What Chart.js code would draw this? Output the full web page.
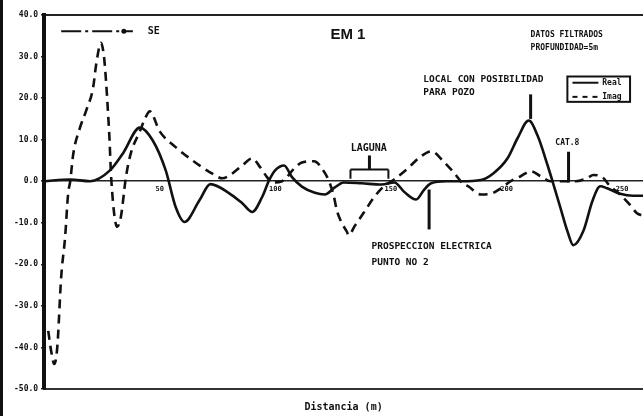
<!DOCTYPE html>
<html>
<head>
<meta charset="utf-8">
<script src="https://cdn.jsdelivr.net/npm/chart.js@4.4.1/dist/chart.umd.min.js"></script>
<style>
  html, body { margin: 0; padding: 0; background: #fff; }
  #wrap { position: relative; width: 643px; height: 416px; }
</style>
</head>
<body>
<div id="wrap"><canvas id="c"></canvas></div>
<script>
// EM 1 profile: real and imaginary components along the line (filtered data, depth 5 m)
const realDist = [0, 11.3, 19.9, 28.5, 34.1, 41.4, 47.0, 52.6, 56.9, 60.7, 67.2, 71.9, 80.1, 85.7, 90.0, 94.3, 97.3, 99.9, 103.8, 107.2, 111.5, 117.1, 121.4, 125.7, 129.6, 137.3, 145.9, 151.5, 155.8, 160.9, 164.4, 167.4, 173.9, 180.3, 188.9, 194.5, 200.5, 204.8, 209.6, 213.4, 217.7, 220.3, 223.3, 226.3, 228.9, 233.2, 237.1, 240.5, 243.5, 249.1, 254.7, 259];
const realVals = [0, 0.4, 0, 2.6, 6.7, 12.9, 9.8, 2.6, -6.2, -9.8, -4.6, -0.7, -2.9, -5.3, -7.4, -3.8, 0.2, 2.6, 3.8, 1.0, -1.3, -2.8, -3.2, -1.5, -0.3, -0.5, -0.8, -0.3, -2.6, -4.4, -2.0, -0.5, 0, 0, 0.3, 2.0, 5.6, 10.4, 14.6, 11.0, 3.9, -0.8, -6.4, -12.0, -15.4, -12.0, -4.8, -1.2, -1.7, -3.0, -3.5, -3.5];

const imagDist = [1.8, 3.1, 4.4, 5.7, 7.4, 9.1, 10.4, 11.3, 12.6, 15.6, 18.2, 21.2, 22.5, 24.6, 25.9, 26.8, 27.6, 28.3, 28.9, 29.8, 30.6, 31.5, 33.2, 35.4, 37.5, 41.4, 44.0, 45.7, 50.0, 56.9, 64.2, 72.8, 77.1, 80.5, 85.7, 90.0, 93.4, 96.4, 98.6, 102.9, 108.1, 111.5, 116.7, 121.4, 123.5, 125.3, 126.6, 128.7, 130.9, 131.7, 134.3, 138.2, 142.5, 146.8, 151.1, 157.5, 162.3, 167.4, 173.0, 177.3, 181.6, 183.3, 188.9, 193.2, 197.5, 201.8, 206.1, 210.4, 214.7, 219.0, 224.6, 229.8, 235.0, 237.5, 241.4, 244.8, 249.1, 253.4, 256.4, 259];
const imagVals = [-36, -41, -44, -40, -23, -13.4, -3, 0, 6.5, 13, 17, 22.5, 28, 33.3, 30, 24, 17, 10, 2, -5, -9, -11, -8.6, 1, 6.7, 12, 15.5, 16.8, 12, 8.2, 5, 1.8, 0.7, 1.5, 3.8, 5.5, 3.4, 1, -0.3, 0, 3, 4.5, 4.8, 2, -0.4, -3.6, -7, -10, -12.1, -13, -10.8, -7.6, -4, -1.3, 0.3, 3.2, 5.7, 7.2, 4.6, 2, -0.8, -1.2, -3.2, -3, -1.7, 0, 1.2, 2.4, 1.2, 0, 0, 0, 0.8, 1.5, 1, -1.2, -3.2, -5.7, -7.7, -8.3];

const distTicks = [50, 100, 150, 200, 250];
const valueRange = [-50, 40];
const distRange = [0, 259];

const INK = '#111';
const MONO = '"DejaVu Sans Mono", "Liberation Mono", monospace';

const toPoints = (xs, ys) => xs.map((x, i) => ({ x, y: ys[i] }));

// Field notes placed in data units (metres, component value)
const notes = {
  title:   { text: 'EM 1', d: 131.4, v: 35.2 },
  se:      { from: 7.4, to: 38.4, mark: 34.5, v: 36.1, label: 'SE', labelAt: 44.8 },
  filtro:  { lines: ['DATOS FILTRADOS', 'PROFUNDIDAD=5m'], d: 210.4, v: [35.2, 32.1] },
  legend:  { d0: 226.3, d1: 253.4, v0: 25.2, v1: 19.1, lineFrom: 228.5, lineTo: 239.7, textAt: 241.4, rows: [23.7, 20.3] },
  pozo:    { lines: ['LOCAL CON POSIBILIDAD', 'PARA POZO'], d: 164.0, v: [24.4, 21.3], arrowD: 210.4, arrowTop: 20.9, arrowEnd: 15.0 },
  laguna:  { text: 'LAGUNA', d: 140.4, v: 7.8, stemTop: 6.2, bar: 2.8, from: 132.5, to: 148.9, foot: 0.6 },
  prosp:   { lines: ['PROSPECCION ELECTRICA', 'PUNTO NO 2'], d: 141.6, v: [-15.7, -19.5], arrowD: 166.5, arrowFrom: -11.6, arrowTo: -2.0 },
  cat:     { text: 'CAT.8', d: 226.3, v: 9.3, arrowD: 226.8, arrowFrom: 7.1, arrowTo: -0.3 }
};

const decor = {
  id: 'decor',
  beforeDraw(chart) {
    const { ctx, chartArea: a, height } = chart;
    ctx.save();
    ctx.fillStyle = INK;
    ctx.fillRect(0, 0, 3, height);          // dark margin strip at the sheet edge
    ctx.strokeStyle = '#222';
    ctx.lineWidth = 2;
    ctx.beginPath();
    ctx.moveTo(a.left, a.top);
    ctx.lineTo(a.right, a.top);
    ctx.stroke();
    ctx.restore();
  },
  afterDatasetsDraw(chart) {
    const { ctx } = chart;
    const X = d => chart.scales.x.getPixelForValue(d);
    const Y = v => chart.scales.y.getPixelForValue(v);
    const text = (s, d, v, size, align = 'left', family = MONO) => {
      ctx.font = 'bold ' + size + 'px ' + family;
      ctx.textAlign = align;
      ctx.textBaseline = 'middle';
      ctx.fillText(s, X(d), Y(v));
    };
    const seg = (d1, v1, d2, v2, w, dash) => {
      ctx.lineWidth = w;
      ctx.setLineDash(dash || []);
      ctx.beginPath();
      ctx.moveTo(X(d1), Y(v1));
      ctx.lineTo(X(d2), Y(v2));
      ctx.stroke();
      ctx.setLineDash([]);
    };
    ctx.save();
    ctx.fillStyle = INK;
    ctx.strokeStyle = INK;

    // title
    text(notes.title.text, notes.title.d, notes.title.v, 15, 'center', '"Liberation Sans", Arial, sans-serif');

    // direction marker
    const se = notes.se;
    seg(se.from, se.v, se.to, se.v, 2, [20, 4, 3, 4]);
    ctx.beginPath();
    ctx.arc(X(se.mark), Y(se.v), 2.5, 0, Math.PI * 2);
    ctx.fill();
    text(se.label, se.labelAt, se.v, 10);

    // processing note
    notes.filtro.lines.forEach((s, i) => text(s, notes.filtro.d, notes.filtro.v[i], 8));

    // legend box built from the dataset styles
    const L = notes.legend;
    ctx.lineWidth = 2;
    ctx.strokeRect(X(L.d0), Y(L.v0), X(L.d1) - X(L.d0), Y(L.v1) - Y(L.v0));
    chart.data.datasets.forEach((ds, i) => {
      seg(L.lineFrom, L.rows[i], L.lineTo, L.rows[i], 2, ds.borderDash ? [5, 5] : []);
      text(ds.label, L.textAt, L.rows[i], 8);
    });

    // candidate well site
    const p = notes.pozo;
    p.lines.forEach((s, i) => text(s, p.d, p.v[i], 9.5));
    seg(p.arrowD, p.arrowTop, p.arrowD, p.arrowEnd, 3);

    // lagoon bracket
    const g = notes.laguna;
    text(g.text, g.d, g.v, 10, 'center');
    seg((g.from + g.to) / 2, g.stemTop, (g.from + g.to) / 2, g.bar, 3);
    seg(g.from, g.bar, g.to, g.bar, 2);
    seg(g.from, g.bar, g.from, g.foot, 2);
    seg(g.to, g.bar, g.to, g.foot, 2);

    // electrical sounding point
    const e = notes.prosp;
    e.lines.forEach((s, i) => text(s, e.d, e.v[i], 9.5));
    seg(e.arrowD, e.arrowFrom, e.arrowD, e.arrowTo, 3);

    // CAT marker
    const c = notes.cat;
    text(c.text, c.d, c.v, 8, 'center');
    seg(c.arrowD, c.arrowFrom, c.arrowD, c.arrowTo, 3);

    ctx.restore();
  }
};

new Chart(document.getElementById('c'), {
  type: 'line',
  data: {
    datasets: [
      {
        label: 'Real',
        data: toPoints(realDist, realVals),
        borderColor: INK,
        borderWidth: 2.6,
        pointRadius: 0,
        cubicInterpolationMode: 'monotone',
        fill: false
      },
      {
        label: 'Imag',
        data: toPoints(imagDist, imagVals),
        borderColor: INK,
        borderWidth: 2.6,
        borderDash: [9, 6],
        pointRadius: 0,
        cubicInterpolationMode: 'monotone',
        fill: false
      }
    ]
  },
  options: {
    responsive: true,
    maintainAspectRatio: false,
    animation: false,
    layout: { padding: { left: 11, top: 15, right: 0, bottom: 3 } },
    plugins: { legend: { display: false }, tooltip: { enabled: false } },
    scales: {
      x: {
        type: 'linear',
        position: 'bottom',
        min: distRange[0],
        max: distRange[1],
        grid: { display: false, drawTicks: false },
        border: { display: true, color: '#333', width: 2 },
        ticks: { display: false },
        title: {
          display: true,
          text: 'Distancia (m)',
          color: INK,
          font: { family: MONO, size: 10, weight: 'bold' },
          padding: { top: 12, bottom: 0 }
        }
      },
      x0: {
        type: 'linear',
        position: { y: 0 },
        min: distRange[0],
        max: distRange[1],
        grid: { display: false, drawTicks: false },
        border: { display: true, color: '#222', width: 1.5, dash: [5, 3] },
        ticks: {
          stepSize: 50,
          includeBounds: false,
          autoSkip: false,
          maxRotation: 0,
          padding: 4,
          color: INK,
          font: { family: MONO, size: 7, weight: 'bold' },
          callback: v => distTicks.includes(v) ? String(v) : ''
        }
      },
      y: {
        type: 'linear',
        position: 'left',
        min: valueRange[0],
        max: valueRange[1],
        ticks: {
          stepSize: 10,
          padding: 3,
          color: INK,
          font: { family: MONO, size: 8, weight: 'bold' },
          callback: v => v.toFixed(1)
        },
        grid: { drawOnChartArea: false, drawTicks: true, tickLength: 3, color: INK, lineWidth: 1.5 },
        border: { display: true, color: INK, width: 4 }
      }
    }
  },
  plugins: [decor]
});
</script>
</body>
</html>
